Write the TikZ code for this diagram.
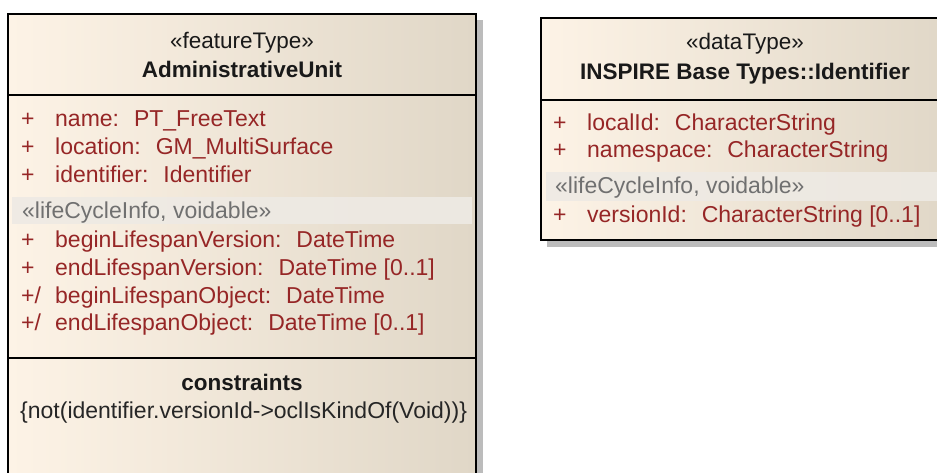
\documentclass[tikz,border=0pt]{standalone}
\usepackage{fontspec}
\setmainfont{Liberation Sans}
\definecolor{creamL}{RGB}{253,243,230}
\definecolor{creamR}{RGB}{224,215,199}
\definecolor{attrred}{RGB}{150,38,38}
\definecolor{stereogray}{RGB}{112,112,112}
\definecolor{bandgray}{RGB}{238,234,228}
\definecolor{shadowgray}{RGB}{188,188,188}
\begin{document}
\begin{tikzpicture}[x=1pt,y=-1pt,
  attr/.style={anchor=base west, inner sep=0pt, text=attrred, font=\fontsize{23}{28}\selectfont},
  vis/.style={attr},
  stereo/.style={anchor=base west, inner sep=0pt, text=stereogray, font=\fontsize{23}{28}\selectfont},
  headst/.style={anchor=base, inner sep=0pt, text=black!90, font=\fontsize{22.5}{27}\selectfont},
  headname/.style={anchor=base, inner sep=0pt, text=black!90, font=\fontsize{22.5}{27}\selectfont\bfseries},
  constr/.style={anchor=base west, inner sep=0pt, text=black!85, font=\fontsize{23}{28}\selectfont},
  frame/.style={draw=black, line width=2.6pt},
  sep/.style={draw=black, line width=2.2pt},
  band/.style={fill=bandgray, opacity=0.9}]
\useasboundingbox (0,0) rectangle (937,472);
\clip (0,0) rectangle (937,472);

% drop shadows
\fill[shadowgray] (14,20) rectangle (483,490);
\fill[shadowgray] (547,24) rectangle (960,247);

% class AdministrativeUnit
\shade[left color=creamL, right color=creamR] (8,14) rectangle (476,490);
\fill[band] (12,197) rectangle (472,224);
\draw[sep] (8,95) -- (476,95);
\draw[sep] (8,358) -- (476,358);
\draw[frame] (8,14) rectangle (476,490);

\node[headst]   (fts)  at (242,48) {«featureType»};
\node[headname] (fnm)  at (242,77) {AdministrativeUnit};

\node[vis]  (v1) at (21,126) {+};
\node[attr] (a1) at (55,126) {name:~ PT\_FreeText};
\node[vis]  (v2) at (21,154) {+};
\node[attr] (a2) at (55,154) {location:~ GM\_MultiSurface};
\node[vis]  (v3) at (21,182) {+};
\node[attr] (a3) at (55,182) {identifier:~ Identifier};
\node[stereo] (lc1) at (22,218) {«lifeCycleInfo, voidable»};
\node[vis]  (v4) at (21,247) {+};
\node[attr] (a4) at (55,247) {beginLifespanVersion:~ DateTime};
\node[vis]  (v5) at (21,275) {+};
\node[attr] (a5) at (55,275) {endLifespanVersion:~ DateTime [0..1]};
\node[vis]  (v6) at (21,303) {+/};
\node[attr] (a6) at (55,303) {beginLifespanObject:~ DateTime};
\node[vis]  (v7) at (21,330) {+/};
\node[attr] (a7) at (55,330) {endLifespanObject:~ DateTime [0..1]};

\node[headname] (cst) at (242,390) {constraints};
\node[constr]   (c1)  at (20,418) {\{not(identifier.versionId->oclIsKindOf(Void))\}};

% class INSPIRE Base Types::Identifier
\shade[left color=creamL, right color=creamR] (541,18) rectangle (950,240);
\fill[band] (546,172) rectangle (950,201);
\draw[sep] (541,100) -- (950,100);
\draw[frame] (541,18) rectangle (950,240);

\node[headst]   (dts) at (745,49) {«dataType»};
\node[headname] (dnm) at (745,79) {INSPIRE Base Types::Identifier};

\node[vis]  (w1) at (553,130) {+};
\node[attr] (b1) at (587,130) {localId:~ CharacterString};
\node[vis]  (w2) at (553,157) {+};
\node[attr] (b2) at (587,157) {namespace:~ CharacterString};
\node[stereo] (lc2) at (555,193) {«lifeCycleInfo, voidable»};
\node[vis]  (w3) at (553,222) {+};
\node[attr] (b3) at (587,222) {versionId:~ CharacterString [0..1]};
\end{tikzpicture}
\end{document}
